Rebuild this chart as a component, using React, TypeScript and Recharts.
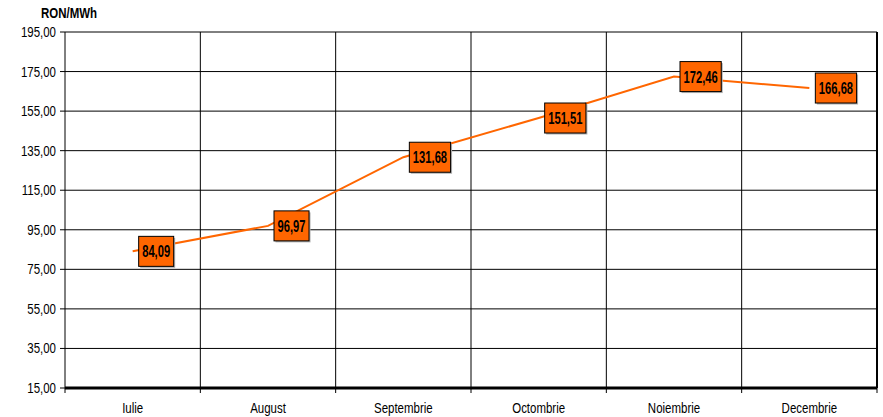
import React from 'react';
import {
  LineChart,
  Line,
  XAxis,
  YAxis,
  CartesianGrid,
  ReferenceLine,
  LabelList
} from 'recharts';

const months = ['Iulie', 'August', 'Septembrie', 'Octombrie', 'Noiembrie', 'Decembrie'];
const prices = [84.09, 96.97, 131.68, 151.51, 172.46, 166.68];
const yTicks = [15, 35, 55, 75, 95, 115, 135, 155, 175, 195];
const boundaries = [1, 2, 3, 4, 5, 6];

const FONT = "'Liberation Sans', Arial, sans-serif";
const NARROW = 0.82; // squeeze Arial to look like Arial Narrow
const ORANGE = '#ff6600';

const fmt = (v: number) => v.toFixed(2).replace('.', ',');

const data = months.map((m, i) => ({ pos: i + 0.5, month: m, value: prices[i] }));

// x ticks: integers are category boundaries (tick marks), halves are category centers (labels)
const xTicks: number[] = [];
for (let i = 0; i <= 12; i++) xTicks.push(i / 2);

const NarrowText = ({ x, y, anchor, bold, size = 14, squeeze = NARROW, children }: any) => (
  <text
    transform={`translate(${x},${y}) scale(${squeeze},1)`}
    textAnchor={anchor}
    fontSize={size}
    fontWeight={bold ? 'bold' : 'normal'}
    fontFamily={FONT}
    fill="#000"
  >
    {children}
  </text>
);

const MonthTick = (props: any) => {
  const { x, y, payload } = props;
  const v = payload.value as number;
  if (Number.isInteger(v)) {
    return <line x1={x} y1={y} x2={x} y2={y + 5} stroke="#000" strokeWidth={1} />;
  }
  return (
    <NarrowText x={x} y={y + 25} anchor="middle">
      {months[Math.floor(v)]}
    </NarrowText>
  );
};

const PriceTick = (props: any) => {
  const { x, y, payload } = props;
  return (
    <NarrowText x={x} y={y + 5} anchor="end">
      {fmt(payload.value)}
    </NarrowText>
  );
};

const ValueBox = (props: any) => {
  const { x, y, value } = props;
  const text = fmt(Number(value));
  const digits = text.replace(',', '').length;
  const textW = (digits * 0.556 + 0.278) * 16 * 0.7;
  const w = textW + 7;
  const h = 30;
  const left = x + 6;
  const top = y - h / 2;
  return (
    <g>
      <rect x={left + 1.5} y={top + 1.5} width={w} height={h} fill="#b0b0b0" />
      <rect x={left} y={top} width={w} height={h} fill={ORANGE} stroke="#000" strokeWidth={1} />
      <NarrowText x={left + w / 2} y={y + 6} anchor="middle" bold size={16} squeeze={0.7}>
        {text}
      </NarrowText>
    </g>
  );
};

const App: React.FC = () => {
  return (
    <div style={{ width: 883, height: 417, background: '#fff', position: 'relative' }}>
      <style>{'body{margin:0}'}</style>
      <svg width={120} height={24} style={{ position: 'absolute', left: 0, top: 0 }}>
        <NarrowText x={41} y={18} anchor="start" bold>
          RON/MWh
        </NarrowText>
      </svg>
      <LineChart
        width={883}
        height={417}
        data={data}
        margin={{ top: 32, right: 6, bottom: 0, left: 0 }}
      >
        <CartesianGrid vertical={false} stroke="#000" strokeWidth={1} />
        <XAxis
          dataKey="pos"
          type="number"
          domain={[0, 6]}
          ticks={xTicks}
          interval={0}
          height={29}
          tickSize={0}
          tickMargin={0}
          tickLine={false}
          axisLine={{ stroke: '#000', strokeWidth: 3 }}
          tick={<MonthTick />}
        />
        <YAxis
          domain={[15, 195]}
          ticks={yTicks}
          interval={0}
          width={65}
          tickSize={5}
          tickMargin={4}
          tickLine={{ stroke: '#000' }}
          axisLine={{ stroke: '#000' }}
          tick={<PriceTick />}
        />
        {boundaries.map((b) => (
          <ReferenceLine
            key={b}
            x={b}
            stroke="#000"
            strokeWidth={b === 6 ? 2 : 1}
          />
        ))}
        <Line
          type="linear"
          dataKey="value"
          stroke={ORANGE}
          strokeWidth={2}
          dot={false}
          activeDot={false}
          isAnimationActive={false}
        >
          <LabelList dataKey="value" content={<ValueBox />} />
        </Line>
      </LineChart>
    </div>
  );
};

export default App;
